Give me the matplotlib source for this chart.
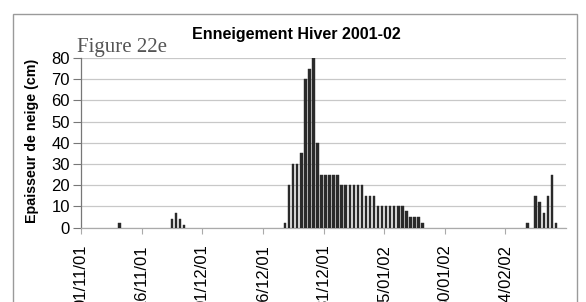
import matplotlib
matplotlib.use("Agg")
import matplotlib.pyplot as plt
from matplotlib.patches import Rectangle
import pandas as pd

# ---- data ----
start_date = "2001-11-01"
end_date = "2002-03-01"
obs_dates = (
    ["2001-11-10", "2001-11-23", "2001-11-24", "2001-11-25", "2001-11-26"]
    + [d.strftime("%Y-%m-%d") for d in pd.date_range("2001-12-21", "2002-01-24")]
    + ["2002-02-19", "2002-02-21", "2002-02-22", "2002-02-23", "2002-02-24",
       "2002-02-25", "2002-02-26"]
)
snow_depth_cm = (
    [2, 4, 7, 4, 1]
    + [2, 20, 30, 30, 35, 70, 75, 80, 40,
       25, 25, 25, 25, 25,
       20, 20, 20, 20, 20, 20,
       15, 15, 15,
       10, 10, 10, 10, 10, 10, 10,
       8, 5, 5, 5, 2]
    + [2, 15, 12, 7, 15, 25, 2]
)
tick_labels = ["01/11/01", "16/11/01", "01/12/01", "16/12/01", "31/12/01",
               "15/01/02", "30/01/02", "14/02/02"]
y_ticks = [0, 10, 20, 30, 40, 50, 60, 70, 80]
title = "Enneigement Hiver 2001-02"
ylabel = "Epaisseur de neige (cm)"
figure_tag = "Figure 22e"

# ---- derived positions ----
t0 = pd.Timestamp(start_date)
x_days = [(pd.Timestamp(d) - t0).days + 0.5 for d in obs_dates]
tick_pos = [(pd.to_datetime(l, format="%d/%m/%y") - t0).days for l in tick_labels]
x_max = (pd.Timestamp(end_date) - t0).days

W, H = 586, 302
fig = plt.figure(figsize=(W / 100, H / 100), dpi=100)
fig.patch.set_facecolor("white")

# chart-area border
fig.add_artist(Rectangle((13 / W, -0.2), (577 - 13) / W, 1 - 14 / H + 0.2,
                         transform=fig.transFigure, fill=False,
                         edgecolor="#9a9a9a", lw=1.0))

ax = fig.add_axes([81 / W, 1 - 227.5 / H, (566 - 81) / W, (227.5 - 58) / H])
ax.bar(x_days, snow_depth_cm, width=0.62, color="#2a2a2a", edgecolor="#2a2a2a",
       linewidth=0.3, zorder=3)

ax.set_xlim(0, x_max)
ax.set_ylim(0, 80)
ax.set_yticks(y_ticks)
ax.set_yticklabels([str(v) for v in y_ticks], fontsize=12, family="Liberation Sans")
ax.set_xticks(tick_pos)
ax.set_xticklabels(tick_labels, rotation=90, fontsize=12, family="Liberation Sans",
                   va="top", ha="center")
ax.tick_params(axis="y", direction="out", length=6, width=0.8, color="#777777", pad=2)
ax.tick_params(axis="x", direction="out", length=4, width=0.8, color="#aaaaaa", pad=8)

ax.grid(axis="y", color="#c8c8c8", lw=0.9, zorder=0)
for s in ["top", "right"]:
    ax.spines[s].set_visible(False)
ax.spines["left"].set_color("#777777")
ax.spines["left"].set_linewidth(0.9)
ax.spines["bottom"].set_color("#aaaaaa")
ax.spines["bottom"].set_linewidth(0.9)

fig.text(296 / W, 1 - 39 / H, title, ha="center", va="baseline",
         fontsize=11.5, fontweight="bold", family="Liberation Sans")
fig.text(77 / W, 1 - 52 / H, figure_tag, ha="left", va="baseline",
         fontsize=15, family="Liberation Serif", color="#555555")
fig.text(32 / W, 1 - 140.5 / H, ylabel, ha="center", va="center", rotation=90,
         fontsize=10.3, fontweight="bold", family="Liberation Sans")

fig.savefig("out.png", dpi=100, facecolor="white")
